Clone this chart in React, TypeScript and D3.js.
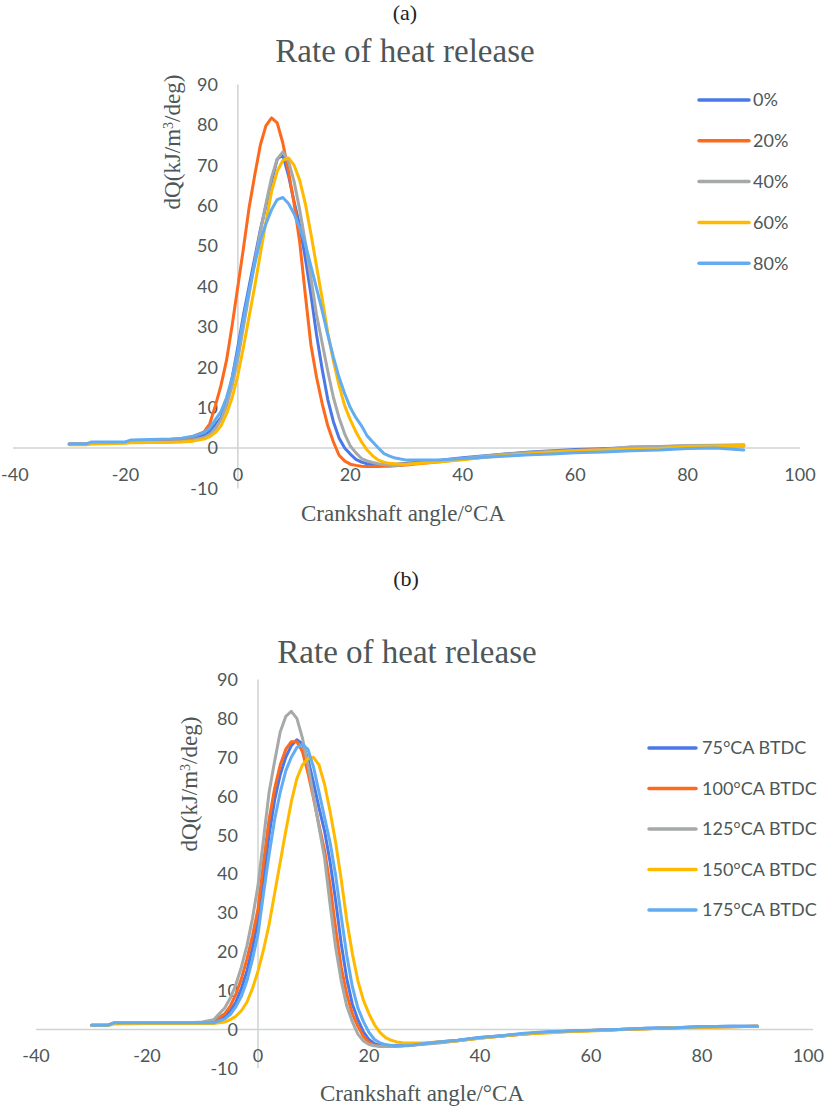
import React from 'react';
import * as d3 from 'd3';

// ---------- data ----------
const xGrid = [-30, -27, -26, -20, -19, -12, -10, -8, -6, -5, -4, -3, -2, -1,
  0, 1, 2, 3, 4, 5, 6, 7, 8, 9, 10, 11, 12, 13, 14, 15, 16, 17, 18, 19, 20, 21, 22, 23, 24, 25, 26, 27, 28,
  30, 33, 36, 40, 44, 48, 52, 56, 60, 65, 70, 75, 80, 85, 90];

const xTicks = [-40, -20, 0, 20, 40, 60, 80, 100];
const yTicks = [-10, 0, 10, 20, 30, 40, 50, 60, 70, 80, 90];

const namesA = ['0%', '20%', '40%', '60%', '80%'];
const namesB = ['75°CA BTDC', '100°CA BTDC', '125°CA BTDC', '150°CA BTDC', '175°CA BTDC'];
const colors = ['#4a78e8', '#fd6a1e', '#a6a9a9', '#ffba00', '#62acf2'];

// (a) blending ratio
const a0 = [1.0, 1.0, 1.2, 1.4, 1.6, 1.7, 1.9, 2.4, 3.2, 4.2, 5.8, 7.5, 11.5, 17.5,
  25, 33, 40, 47, 54, 60, 66, 71.5, 72.5, 67.5, 61, 55, 47, 38, 28, 19.5, 12, 6.5, 2.5, 0, -1.5, -2.8, -3.5, -3.9, -4.1, -4.2, -4.2, -4.1, -4.0,
  -3.8, -3.4, -3.0, -2.4, -1.9, -1.4, -1.0, -0.7, -0.4, -0.2, 0.1, 0.3, 0.5, 0.6, 0.6];
const a20 = [1.0, 1.0, 1.2, 1.4, 1.6, 1.7, 2.0, 2.8, 4.0, 6.0, 10.5, 15.5, 21.8, 30.5,
  40, 49.5, 59.5, 67.5, 75, 79.8, 81.7, 80.5, 75.5, 68.5, 60.5, 51, 38, 25.5, 17.5, 11, 5.5, 1.5, -1.8, -3.2, -4.0, -4.3, -4.5, -4.6, -4.6, -4.6, -4.5, -4.5, -4.4,
  -4.2, -3.8, -3.4, -2.8, -2.2, -1.6, -1.2, -0.9, -0.6, -0.3, 0.0, 0.2, 0.4, 0.5, 0.5];
const a40 = [1.0, 1.0, 1.1, 1.3, 1.4, 1.5, 1.6, 2.0, 2.6, 3.3, 4.8, 7.0, 10.5, 15.5,
  22, 30, 38, 46, 53.5, 60.5, 67, 71.5, 73.3, 71, 66, 59, 51, 42, 33, 26, 19, 12.5, 7.5, 3.5, 0.5, -1.2, -2.6, -3.2, -3.6, -3.9, -4.1, -4.3, -4.4,
  -4.0, -3.6, -3.2, -2.6, -2.0, -1.5, -1.1, -0.8, -0.6, -0.4, 0.3, 0.4, 0.6, 0.7, 0.8];
const a60 = [0.8, 0.8, 1.0, 1.2, 1.3, 1.4, 1.5, 1.7, 2.2, 2.8, 3.8, 5.5, 8.5, 12.5,
  18, 25, 32.5, 40, 48, 56, 63.5, 68.5, 71.2, 71.8, 70, 66.3, 60.5, 53, 45, 37, 28.5, 21.5, 15.5, 10.5, 7, 4, 1.5, -0.5, -2, -3, -3.5, -3.8, -3.9,
  -4.0, -3.7, -3.4, -2.9, -2.3, -1.8, -1.4, -1.0, -0.7, -0.5, -0.3, -0.1, 0.4, 0.5, 0.6];
const a80 = [1.0, 1.0, 1.5, 1.5, 2.0, 2.2, 2.4, 2.9, 3.8, 5.0, 7.0, 9.0, 12.5, 17.5,
  24, 32, 39, 45.5, 51.5, 55.5, 59, 61.5, 62, 60.5, 58, 54.5, 50.5, 45, 39.5, 34, 28, 22.5, 17.5, 13.5, 10, 7.5, 5.5, 3, 1.5, 0, -1.4, -2, -2.5,
  -3.0, -3.0, -3.0, -2.6, -2.3, -2.0, -1.7, -1.5, -1.2, -1.0, -0.7, -0.5, -0.1, 0.0, -0.5];

// (b) injection timing
const b75 = [1.1, 1.1, 1.6, 1.6, 1.6, 1.6, 1.6, 2.0, 3.2, 4.8, 7.0, 10.5, 15.0, 21.0,
  28, 39, 50, 59, 65.5, 70, 73, 74.5, 73.5, 69.5, 63.5, 57, 51, 43, 33, 22, 13, 6.5, 2.5, -0.6, -2.6, -3.7, -4.1, -4.2, -4.2, -4.1, -4.0, -3.9, -3.8,
  -3.6, -3.2, -2.8, -2.1, -1.6, -1.1, -0.7, -0.5, -0.3, 0.0, 0.3, 0.4, 0.7, 0.8, 0.8];
const b100 = [1.1, 1.1, 1.6, 1.6, 1.6, 1.6, 1.7, 2.2, 4.0, 6.0, 9.0, 13.0, 18.0, 24.0,
  31, 43, 54, 62, 68, 72, 74, 74, 71.5, 66, 59.5, 52.5, 46, 37, 26, 16, 9, 4, 0.8, -1.8, -3.4, -4.1, -4.3, -4.4, -4.4, -4.3, -4.2, -4.1, -4.0,
  -3.7, -3.3, -2.9, -2.2, -1.7, -1.2, -0.8, -0.5, -0.3, 0.0, 0.2, 0.4, 0.6, 0.7, 0.8];
const b125 = [1.1, 1.1, 1.6, 1.6, 1.6, 1.7, 1.9, 2.5, 5.5, 8.0, 11.5, 16.0, 21.5, 28.5,
  37, 49, 61, 69, 76.5, 80.5, 81.8, 80, 75, 68, 60, 52, 44, 32, 21, 12.5, 6, 2, -1.2, -3, -3.9, -4.2, -4.4, -4.4, -4.4, -4.3, -4.2, -4.1, -4.0,
  -3.8, -3.4, -2.9, -2.2, -1.7, -1.2, -0.8, -0.5, -0.3, 0.0, 0.2, 0.4, 0.6, 0.7, 0.8];
const b150 = [1.0, 1.0, 1.4, 1.5, 1.5, 1.5, 1.5, 1.5, 1.9, 2.5, 3.4, 4.8, 7.0, 10.5,
  15, 20.5, 27, 35, 43, 51, 58.5, 64.5, 68, 69.7, 70, 68, 63, 56, 48, 38.5, 28, 19.5, 12.5, 7.5, 4, 1.2, -0.8, -2.1, -2.8, -3.2, -3.4, -3.5, -3.5,
  -3.5, -3.2, -2.9, -2.3, -1.7, -1.2, -0.9, -0.6, -0.4, -0.1, 0.2, 0.4, 0.5, 0.7, 0.8];
const b175 = [1.1, 1.1, 1.7, 1.7, 1.7, 1.7, 1.7, 1.7, 2.7, 3.8, 5.8, 8.5, 12.5, 18.0,
  24.5, 35, 45, 54, 61, 66.5, 70, 72.5, 73.3, 72, 67.5, 61, 54.5, 48, 39.5, 29, 19, 11, 5.5, 2, -0.8, -2.6, -3.5, -3.9, -4.1, -4.2, -4.2, -4.2, -4.0,
  -3.6, -3.2, -2.8, -2.1, -1.6, -1.0, -0.6, -0.4, -0.2, 0.0, 0.3, 0.4, 0.7, 0.8, 0.8];

const seriesA = [a0, a20, a40, a60, a80];
const seriesB = [b75, b100, b125, b150, b175];

// ---------- styles ----------
const TEXT = '#4d5757';
const AXIS = '#cfd3d3';
const SANS = 'Lato, "Open Sans", sans-serif';
const SERIF = '"Liberation Serif", "DejaVu Serif", serif';
const W = 825;

type Layout = {
  xRange: [number, number];
  yRange: [number, number];
  panelLabel: string;
  panelPos: [number, number];
  titlePos: [number, number];
  yLabelPos: [number, number];
  xLabelPos: [number, number];
  legendX: [number, number, number];
  legendY0: number;
  legendDy: number;
};

const layoutA: Layout = {
  xRange: [13, 800],
  yRange: [488.4, 84.4],
  panelLabel: '(a)',
  panelPos: [405, 20],
  titlePos: [405, 62],
  yLabelPos: [172, 142],
  xLabelPos: [403, 521],
  legendX: [699, 749, 753],
  legendY0: 100,
  legendDy: 40.8,
};

const layoutB: Layout = {
  xRange: [36, 813],
  yRange: [1068.3, 679.5],
  panelLabel: '(b)',
  panelPos: [406, 586],
  titlePos: [407, 663],
  yLabelPos: [189, 784],
  xLabelPos: [422, 1101],
  legendX: [649, 696, 702],
  legendY0: 748,
  legendDy: 40.5,
};

const TICK_FS = 18;

function Panel({ layout, series, names }: { layout: Layout; series: number[][]; names: string[] }) {
  const x = d3.scaleLinear().domain([-40, 100]).range(layout.xRange);
  const y = d3.scaleLinear().domain([-10, 90]).range(layout.yRange);
  const line = d3
    .line<number>()
    .x((_, i) => x(xGrid[i]))
    .y((d) => y(d));
  const x0 = x(0);
  const y0 = y(0);
  return (
    <g>
      <text x={layout.panelPos[0]} y={layout.panelPos[1]} textAnchor="middle" fontFamily={SERIF} fontSize={22} fill="#222">
        {layout.panelLabel}
      </text>
      <text x={layout.titlePos[0]} y={layout.titlePos[1]} textAnchor="middle" fontFamily={SERIF} fontSize={33} fill={TEXT}>
        Rate of heat release
      </text>
      {/* axes */}
      <line x1={x(-40)} x2={x(100)} y1={y0} y2={y0} stroke={AXIS} strokeWidth={1.5} />
      <line x1={x0} x2={x0} y1={y(-10)} y2={y(90)} stroke={AXIS} strokeWidth={1.5} />
      {yTicks.map((t) => (
        <text key={'y' + t} x={x0 - 20} y={y(t)} dy="0.36em" textAnchor="end" fontFamily={SANS} fontSize={TICK_FS} fill={TEXT}>
          {t}
        </text>
      ))}
      {xTicks.map((t) => {
        const px = x(t);
        const half = (String(t).length * 0.58 * TICK_FS) / 2;
        let anchor: 'middle' | 'start' | 'end' = 'middle';
        let tx = px;
        if (px + half > W - 1) {
          anchor = 'end';
          tx = W - 1;
        } else if (px - half < 1) {
          anchor = 'start';
          tx = 1;
        }
        return (
          <text key={'x' + t} x={tx} y={y0 + 33} textAnchor={anchor} fontFamily={SANS} fontSize={TICK_FS} fill={TEXT}>
            {t}
          </text>
        );
      })}
      {/* series */}
      {series.map((s, i) => (
        <path key={'s' + i} d={line(s) || ''} fill="none" stroke={colors[i]} strokeWidth={3} strokeLinejoin="round" strokeLinecap="round" />
      ))}
      {/* axis titles */}
      <text
        transform={`translate(${layout.yLabelPos[0]},${layout.yLabelPos[1]}) rotate(-90)`}
        textAnchor="middle"
        dy="0.35em"
        fontFamily={SERIF}
        fontSize={23}
        fill={TEXT}
      >
        dQ(kJ/m
        <tspan baselineShift="super" fontSize={14}>3</tspan>
        /deg)
      </text>
      <text x={layout.xLabelPos[0]} y={layout.xLabelPos[1]} textAnchor="middle" fontFamily={SERIF} fontSize={23} fill={TEXT}>
        Crankshaft angle/°CA
      </text>
      {/* legend */}
      {names.map((n, i) => {
        const ly = layout.legendY0 + i * layout.legendDy;
        return (
          <g key={'l' + i}>
            <line x1={layout.legendX[0]} x2={layout.legendX[1]} y1={ly} y2={ly} stroke={colors[i]} strokeWidth={3.5} strokeLinecap="round" />
            <text x={layout.legendX[2]} y={ly} dy="0.36em" fontFamily={SANS} fontSize={TICK_FS} fill={TEXT}>
              {n}
            </text>
          </g>
        );
      })}
    </g>
  );
}

export default function App() {
  return (
    <svg
      width={825}
      height={1108}
      viewBox="0 0 825 1108"
      style={{ position: 'absolute', left: 0, top: 0, background: '#fff' }}
    >
      <rect width={825} height={1108} fill="#fff" />
      <Panel layout={layoutA} series={seriesA} names={namesA} />
      <Panel layout={layoutB} series={seriesB} names={namesB} />
    </svg>
  );
}
